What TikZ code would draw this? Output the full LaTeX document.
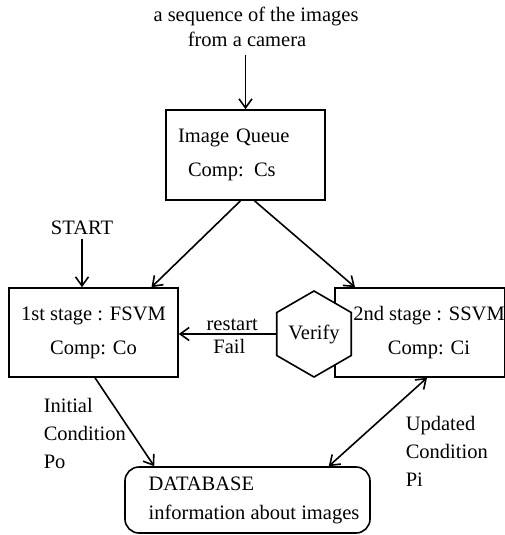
\documentclass[tikz,border=0pt]{standalone}
\usepackage{fontspec}
\setmainfont{Liberation Serif}
\usetikzlibrary{arrows.meta,shapes.geometric}

\begin{document}
\begin{tikzpicture}[x=1pt,y=-1pt,line width=1.6pt,
  >={Straight Barb[length=9pt,width=13pt]},
  every node/.style={font=\fontsize{20.5}{25}\selectfont},
  box/.style={draw, rectangle, inner sep=0pt, minimum height=89pt},
  hexa/.style={draw, fill=white, regular polygon, regular polygon sides=6,
    shape border rotate=30, minimum size=86pt, inner sep=0pt}]
\useasboundingbox (0,0) rectangle (505,535);
% camera input and queue:
\node[align=center] (camera) at (256,27) {a sequence of the images\\from a camera\hspace*{18pt}};
\coordinate (feed) at (245.5,55);
\node[box, minimum width=159pt, minimum height=90pt, text width=135pt, inner xsep=12pt, align=left] (queue) at (245.5,155) {Image Queue\\[9pt]\hspace*{10pt}Comp: Cs};
\draw[->] (feed) -- (queue);
% the two stages:
\node (start) at (82,228) {START};
\node[box, minimum width=169pt, align=center] (fsvm) at (93.5,332.5) {1st stage : FSVM\\[9pt]Comp: Co};
\node[box, minimum width=166pt, align=center] (ssvm) at (420,332.5) {\hspace*{18pt}2nd stage : SSVM\\[9pt]\hspace*{18pt}Comp: Ci};
\node[hexa] (verify) at (314,334) {Verify};
\draw[->] (start) -- (start |- fsvm.north);
\draw[->] ([xshift=-5pt]queue.south) -- ([xshift=58pt]fsvm.north);
\draw[->] ([xshift=9pt]queue.south) -- ([xshift=-65pt]ssvm.north);
\draw[->] (verify.west) -- (verify.west -| fsvm.east)
  node[pos=.45, above, inner sep=3pt] (restart) {restart}
  node[pos=.48, below, inner sep=4pt] (fail) {Fail};
% database:
\node[draw, rounded corners=14pt, minimum width=245pt, minimum height=66pt, align=left, inner sep=0pt] (db) at (247.5,500) {\hspace*{13pt}DATABASE\\[4pt]\hspace*{13pt}information about images};
\draw[->] ([xshift=1.5pt]fsvm.south) -- ([xshift=30pt]db.north west);
\draw[<->] ([xshift=7pt]ssvm.south) -- ([xshift=-42pt]db.north east);
\node[anchor=west, align=left, inner sep=0pt] (initial) at (43,433) {Initial\\[3pt]Condition\\[3pt]Po};
\node[anchor=west, align=left, inner sep=0pt] (updated) at (405,451) {Updated\\[3pt]Condition\\[3pt]Pi};
\end{tikzpicture}
\end{document}
